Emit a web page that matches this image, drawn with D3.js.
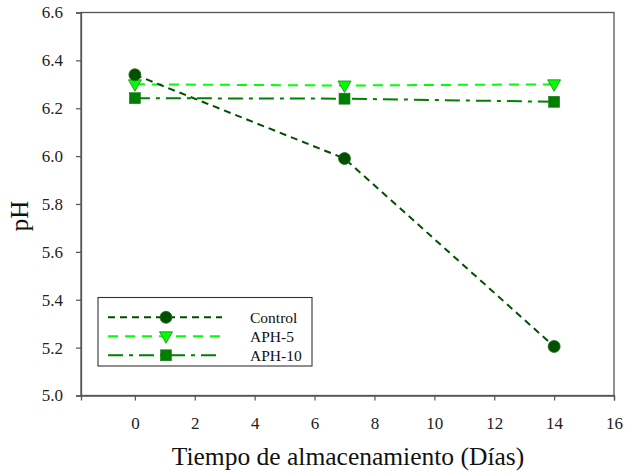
<!DOCTYPE html>
<html>
<head>
<meta charset="utf-8">
<script src="https://cdn.jsdelivr.net/npm/d3@7"></script>
<style>
  body { margin: 0; background: #fff; }
  svg { display: block; }
</style>
</head>
<body>
<svg id="chart" width="625" height="475"></svg>
<script>
// Storage days and pH readings per treatment
const days = [0, 7, 14];
const control = [6.34, 5.99, 5.205];
const aph5 = [6.30, 6.295, 6.30];
const aph10 = [6.242, 6.24, 6.227];
const seriesNames = ["Control", "APH-5", "APH-10"];
const xTicks = [0, 2, 4, 6, 8, 10, 12, 14, 16];
const yTicks = [5.0, 5.2, 5.4, 5.6, 5.8, 6.0, 6.2, 6.4, 6.6];

const svg = d3.select("#chart");
const plotLeft = 81, plotRight = 614, plotTop = 12.5, plotBottom = 395.5;

const x = d3.scaleLinear().domain([-1.8, 16]).range([plotLeft, plotRight]);
const y = d3.scaleLinear().domain([5.0, 6.6]).range([plotBottom, plotTop]);

const axisColor = "#555";
const serif = "'Liberation Serif', 'Times New Roman', serif";

// frame around the plotting area
svg.append("rect")
  .attr("x", plotLeft).attr("y", plotTop)
  .attr("width", plotRight - plotLeft).attr("height", plotBottom - plotTop)
  .attr("fill", "none").attr("stroke", axisColor).attr("stroke-width", 1.3);

// axes
const xAxis = svg.append("g").attr("transform", `translate(0,${plotBottom})`)
  .call(d3.axisBottom(x).tickValues(xTicks).tickFormat(d3.format("d")).tickSize(5).tickPadding(16));
const yAxis = svg.append("g").attr("transform", `translate(${plotLeft},0)`)
  .call(d3.axisLeft(y).tickValues(yTicks).tickFormat(d3.format(".1f")).tickSize(5).tickPadding(13));
[xAxis, yAxis].forEach(g => {
  g.select(".domain").attr("stroke", axisColor).attr("stroke-width", 1.3);
  g.selectAll(".tick line").attr("stroke", axisColor).attr("stroke-width", 1.2);
  g.selectAll(".tick text").style("font-family", serif)
    .style("font-size", "17px").attr("fill", "#222");
});

// axis titles
svg.append("text").attr("x", 348).attr("y", 465)
  .attr("text-anchor", "middle").style("font-family", serif).style("font-size", "25.5px").attr("fill", "#111")
  .text("Tiempo de almacenamiento (Días)");
svg.append("text").attr("transform", "translate(28,216) rotate(-90)")
  .attr("text-anchor", "middle").style("font-family", serif).style("font-size", "25px").attr("fill", "#111")
  .text("pH");

const styles = [
  { values: control, color: "#005000", dash: "7,5", marker: "circle" },
  { values: aph5, color: "#00ff00", dash: "10,7", marker: "triangle" },
  { values: aph10, color: "#008000", dash: "15,6,4,6", marker: "square" }
];

function drawMarker(g, type, cx, cy, color) {
  if (type === "circle") {
    g.append("circle").attr("cx", cx).attr("cy", cy).attr("r", 6)
      .attr("fill", color).attr("stroke", "#1f6b1f").attr("stroke-width", 0.8);
  } else if (type === "triangle") {
    g.append("path")
      .attr("d", `M${cx - 6.5},${cy - 4.5} L${cx + 6.5},${cy - 4.5} L${cx},${cy + 7} Z`)
      .attr("fill", color).attr("stroke", "#208020").attr("stroke-width", 0.8);
  } else {
    g.append("rect").attr("x", cx - 5.5).attr("y", cy - 5.5)
      .attr("width", 11).attr("height", 11)
      .attr("fill", color).attr("stroke", "#1f7a1f").attr("stroke-width", 0.6);
  }
}

const line = d3.line().x(d => x(d[0])).y(d => y(d[1]));
const plot = svg.append("g");

// lines first, markers drawn on top (later series beneath earlier ones)
styles.slice().reverse().forEach(s => {
  const pts = days.map((d, i) => [d, s.values[i]]);
  plot.append("path").datum(pts).attr("d", line)
    .attr("fill", "none").attr("stroke", s.color).attr("stroke-width", 2)
    .attr("stroke-dasharray", s.dash);
});
styles.slice().reverse().forEach(s => {
  days.forEach((d, i) => drawMarker(plot, s.marker, x(d), y(s.values[i]), s.color));
});

// legend
const lg = svg.append("g");
lg.append("rect").attr("x", 98).attr("y", 297.5).attr("width", 214).attr("height", 68.5)
  .attr("fill", "#fff").attr("stroke", "#333").attr("stroke-width", 1.1);
styles.forEach((s, i) => {
  const ly = 317.3 + i * 19;
  lg.append("line").attr("x1", 108).attr("x2", 222).attr("y1", ly).attr("y2", ly)
    .attr("stroke", s.color).attr("stroke-width", 2).attr("stroke-dasharray", s.dash);
  drawMarker(lg, s.marker, 166, ly, s.color);
  lg.append("text").attr("x", 250).attr("y", ly + 5.4).style("font-family", serif)
    .style("font-size", "15.5px").attr("fill", "#111")
    .text(seriesNames[i]);
});
</script>
</body>
</html>
